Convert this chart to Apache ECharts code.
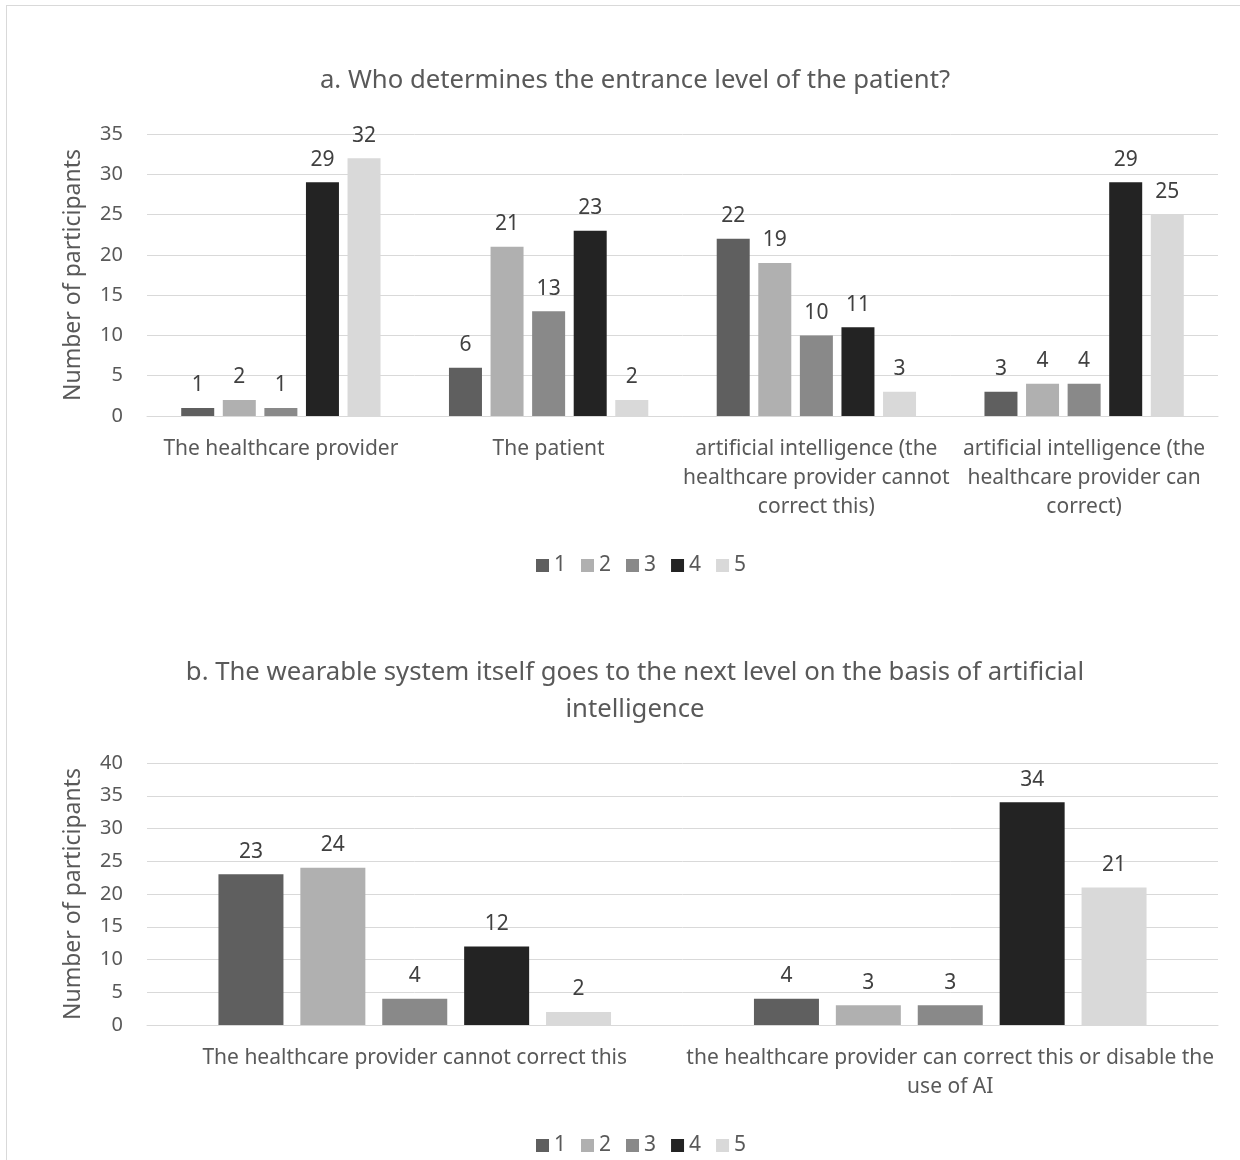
<!DOCTYPE html>
<html>
<head>
<meta charset="utf-8">
<script src="https://cdn.jsdelivr.net/npm/echarts@6/dist/echarts.min.js"></script>
<style>
  html, body { margin: 0; padding: 0; background: #ffffff; }
  #frame { position: absolute; left: 6px; top: 5px; width: 1300px; height: 1300px;
           border-left: 1px solid #d9d9d9; border-top: 1px solid #d9d9d9; box-sizing: border-box; }
  #chart { position: absolute; left: 0; top: 0; width: 1240px; height: 1160px; }
</style>
</head>
<body>
<div id="frame"></div>
<div id="chart"></div>
<script>
// Likert ratings (1–5) and their grey shades
const ratingNames = ['1', '2', '3', '4', '5'];
const ratingColors = ['#5f5f5f', '#b0b0b0', '#898989', '#232323', '#d9d9d9'];

// Panel a
const titleA = 'a. Who determines the entrance level of the patient?';
const categoriesA = [
  'The healthcare provider',
  'The patient',
  'artificial intelligence (the\nhealthcare provider cannot\ncorrect this)',
  'artificial intelligence (the\nhealthcare provider can\ncorrect)'
];
const valuesA1 = [1, 6, 22, 3];
const valuesA2 = [2, 21, 19, 4];
const valuesA3 = [1, 13, 10, 4];
const valuesA4 = [29, 23, 11, 29];
const valuesA5 = [32, 2, 3, 25];
const yMaxA = 35;

// Panel b
const titleB = 'b. The wearable system itself goes to the next level on the basis of artificial\nintelligence';
const categoriesB = [
  'The healthcare provider cannot correct this',
  'the healthcare provider can correct this or disable the\nuse of AI'
];
const valuesB1 = [23, 4];
const valuesB2 = [24, 3];
const valuesB3 = [4, 3];
const valuesB4 = [12, 34];
const valuesB5 = [2, 21];
const yMaxB = 40;

const yTickStep = 5;
const yName = 'Number of participants';

const FONT = '"Noto Sans", sans-serif';
const TEXT = '#595959';
const GRID = '#d9d9d9';
const TITLE_X = 630;

const seriesA = [valuesA1, valuesA2, valuesA3, valuesA4, valuesA5];
const seriesB = [valuesB1, valuesB2, valuesB3, valuesB4, valuesB5];

function makeSeries(sets, axisIndex, barWidth) {
  return sets.map((vals, i) => ({
    type: 'bar',
    name: ratingNames[i],
    xAxisIndex: axisIndex,
    yAxisIndex: axisIndex,
    data: vals,
    barWidth: barWidth,
    barGap: '26%',
    itemStyle: { color: ratingColors[i] },
    label: {
      show: true,
      position: 'top',
      distance: 12,
      color: '#404040',
      fontSize: 21,
      fontFamily: FONT
    }
  }));
}

function makeXAxis(cats, gridIndex) {
  return {
    type: 'category',
    gridIndex: gridIndex,
    data: cats,
    axisLine: { show: true, lineStyle: { color: GRID, width: 1 } },
    axisTick: { show: false },
    axisLabel: {
      interval: 0,
      color: TEXT,
      fontSize: 21,
      fontFamily: FONT,
      lineHeight: 29,
      margin: 19
    }
  };
}

function makeYAxis(maxV, gridIndex) {
  return {
    type: 'value',
    gridIndex: gridIndex,
    min: 0,
    max: maxV,
    interval: yTickStep,
    name: yName,
    nameLocation: 'middle',
    nameGap: 62,
    nameTextStyle: { color: TEXT, fontSize: 23, fontFamily: FONT },
    axisLine: { show: false },
    axisTick: { show: false },
    splitLine: { lineStyle: { color: GRID, width: 1 } },
    axisLabel: { color: TEXT, fontSize: 20, fontFamily: FONT, margin: 24 }
  };
}

const legendBase = {
  data: ratingNames,
  left: 531,
  itemWidth: 13,
  itemHeight: 13,
  itemGap: 15,
  icon: 'rect',
  selectedMode: false,
  textStyle: { color: TEXT, fontSize: 21, fontFamily: FONT }
};

const titleStyle = { color: TEXT, fontSize: 25.7, fontWeight: 'normal', fontFamily: FONT };

// each title line is its own title component, centred over the plot
const titleBLines = titleB.split('\n');
const titles = [{ text: titleA, left: TITLE_X, textAlign: 'center', top: 63, textStyle: titleStyle }]
  .concat(titleBLines.map((line, i) => ({
    text: line, left: TITLE_X, textAlign: 'center', top: 655 + i * 37, textStyle: titleStyle
  })));

const chart = echarts.init(document.getElementById('chart'), null, { renderer: 'canvas' });
chart.setOption({
  backgroundColor: 'transparent',
  animation: false,
  title: titles,
  legend: [
    Object.assign({}, legendBase, { top: 550 }),
    Object.assign({}, legendBase, { top: 1130 })
  ],
  grid: [
    { left: 147, right: 22, top: 134, height: 282 },
    { left: 147, right: 22, top: 763, height: 262 }
  ],
  xAxis: [makeXAxis(categoriesA, 0), makeXAxis(categoriesB, 1)],
  yAxis: [makeYAxis(yMaxA, 0), makeYAxis(yMaxB, 1)],
  series: makeSeries(seriesA, 0, 33).concat(makeSeries(seriesB, 1, 65))
});
</script>
</body>
</html>
